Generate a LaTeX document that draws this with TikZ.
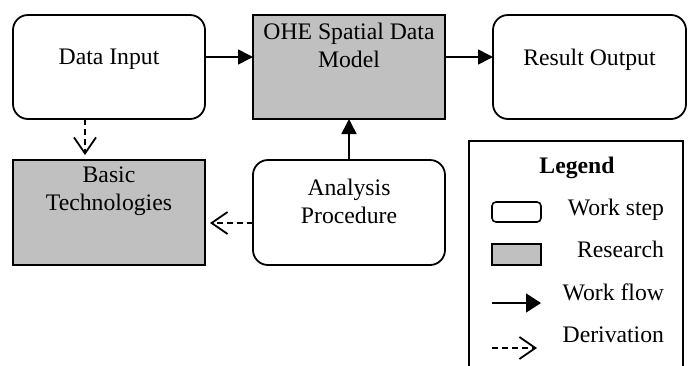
\documentclass[tikz,border=0pt]{standalone}
\usepackage{fontspec}
\setmainfont{Liberation Serif}
\usetikzlibrary{arrows.meta}
\definecolor{researchgrey}{RGB}{192,192,192}
\begin{document}
\begin{tikzpicture}[x=1pt,y=-1pt,
  font=\fontsize{23.7}{28}\selectfont,
  every node/.style={inner sep=0pt, outer sep=0pt},
  wstep/.style={draw, line width=1.8pt, rounded corners=15pt, fill=white},
  rbox/.style={draw, line width=1.8pt, fill=researchgrey},
  txt/.style={anchor=north, align=center},
  ltxt/.style={anchor=base east},
  flow/.style={line width=1.6pt, -{Triangle[length=15pt,width=15pt]}},
  deriv/.style={line width=1.7pt, dash pattern=on 6pt off 4pt, -{Straight Barb[length=16pt,width=22pt,line width=1.8pt]}, shorten >=5pt},
]
\useasboundingbox (0,0) rectangle (689,365);

% main boxes
\node[wstep, minimum width=192pt, minimum height=104pt] (di) at (109,67) {};
\node[rbox,  minimum width=192pt, minimum height=104pt] (ohe) at (349,67) {};
\node[wstep, minimum width=193pt, minimum height=104pt] (ro) at (589.5,67) {};
\node[rbox,  minimum width=192pt, minimum height=105pt] (bt) at (109,212.5) {};
\node[wstep, minimum width=192pt, minimum height=105pt] (ap) at (349,212.5) {};

% texts
\node[txt] (dit) at (109,49) {Data Input};
\node[txt] (ohet) at (349,23) {OHE Spatial Data\\Model};
\node[txt] (rot) at (589.5,49) {Result Output};
\node[txt] (btt) at (109,167) {Basic\\Technologies};
\node[txt] (apt) at (349,179) {Analysis\\Procedure};

% connectors
\draw[flow] ([yshift=10pt]di.east) -- ([yshift=10pt]ohe.west);
\draw[flow] ([yshift=10pt]ohe.east) -- ([yshift=10pt]ro.west);
\draw[flow] (ap.north) -- (ohe.south);
\draw[deriv] ([xshift=-24pt]di.south) -- ([xshift=-24pt]bt.north);
\draw[deriv] ([yshift=-10.5pt]ap.west) -- ([yshift=-10.5pt]bt.east);

% legend
\draw[line width=1.5pt] (469,370) -- (469,141) -- (683,141) -- (683,370);
\node[anchor=base, font={\fontsize{23.7}{28}\selectfont\bfseries}] (lg) at (577,173) {Legend};
\node[draw, line width=1.6pt, rounded corners=4pt, fill=white, minimum width=49pt, minimum height=20pt] (lws) at (516.5,212) {};
\node[draw, line width=1.6pt, fill=researchgrey, minimum width=49pt, minimum height=21pt] (lrs) at (516.5,254.5) {};
\coordinate (lwfa) at (492,303);
\coordinate (lwfb) at (541,303);
\draw[line width=1.6pt, -{Triangle[length=15pt,width=19pt]}] (lwfa) -- (lwfb);
\coordinate (lda) at (492,348);
\coordinate (ldb) at (537,348);
\draw[deriv, shorten >=0pt] (lda) -- (ldb);
\node[ltxt] (lt1) at (664,215) {Work step};
\node[ltxt] (lt2) at (664,257) {Research};
\node[ltxt] (lt3) at (664,300) {Work flow};
\node[ltxt] (lt4) at (664,342) {Derivation};
\end{tikzpicture}
\end{document}
